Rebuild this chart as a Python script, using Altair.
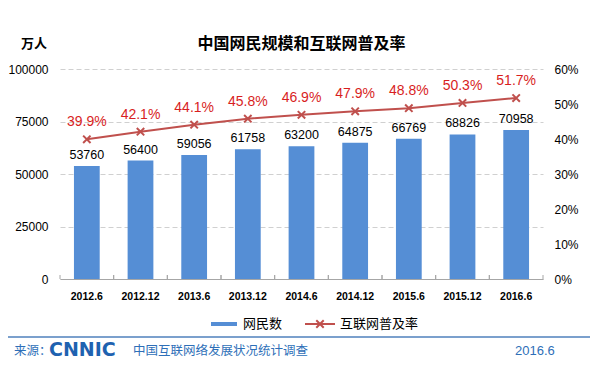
import altair as alt
import pandas as pd

periods = ["2012.6", "2012.12", "2013.6", "2013.12", "2014.6", "2014.12", "2015.6", "2015.12", "2016.6"]
users = [53760, 56400, 59056, 61758, 63200, 64875, 66769, 68826, 70958]
rates = [39.9, 42.1, 44.1, 45.8, 46.9, 47.9, 48.8, 50.3, 51.7]
left_ticks = [0, 25000, 50000, 75000, 100000]
right_ticks = [0, 10, 20, 30, 40, 50, 60]

df = pd.DataFrame({"period": periods, "users": users, "rate": rates})
df["rate_label"] = [f"{r:.1f}%" for r in rates]

FONT = "Liberation Sans, Noto Sans CJK SC"
CJK = "Noto Sans CJK SC"
BAR = "#558ED5"
LINE = "#C0504D"
PCT = "#D81E1E"
BLUE_TXT = "#2E6FB8"
W, H = 483, 210
STEP = W / len(periods)
XSHAPE = "M-1,-1L1,1M-1,1L1,-1"

xaxis = alt.Axis(labelAngle=0, ticks=False, domain=True, domainColor="#A6A6A6", domainWidth=1,
                 labelFont=FONT, labelFontSize=10.5, labelFontWeight="bold",
                 labelColor="#000000", labelPadding=12, grid=False)
xscale = alt.Scale(paddingInner=0.52, paddingOuter=0.26)
xenc = alt.X("period:N", sort=periods, title=None, scale=xscale, axis=xaxis)

lax = alt.Axis(values=left_ticks, format="d", domain=False, ticks=False, labelOverlap=False,
               labelFont=FONT, labelFontSize=12, labelColor="#000000", labelPadding=12,
               grid=True, gridDash=[5, 3], gridColor="#D0D0D0")
yleft = alt.Y("users:Q", title=None, scale=alt.Scale(domain=[0, 100000]), axis=lax)

rax = alt.Axis(orient="right", values=right_ticks, labelExpr="datum.value + '%'",
               domain=False, ticks=False, grid=False, labelOverlap=False,
               labelFont=FONT, labelFontSize=12, labelColor="#000000",
               labelAlign="left", labelPadding=11)
yright = alt.Y("rate:Q", title=None, scale=alt.Scale(domain=[0, 60]), axis=rax)

base = alt.Chart(df)

bars = base.mark_bar(color=BAR).encode(x=xenc, y=yleft)
bar_text = base.mark_text(font=FONT, fontSize=12.5, color="#000000", baseline="bottom", dy=-4).encode(
    x=xenc, y=yleft, text=alt.Text("users:Q", format="d"))
tick_l = base.mark_rule(color="#A6A6A6", xOffset=-STEP / 2).encode(
    x=xenc, y=alt.value(H - 4), y2=alt.value(H))
tick_r = base.mark_rule(color="#A6A6A6", xOffset=STEP / 2).encode(
    x=xenc, y=alt.value(H - 4), y2=alt.value(H))

left = alt.layer(bars, bar_text, tick_l, tick_r)

line = base.mark_line(color=LINE, strokeWidth=2).encode(x=xenc, y=yright)
pts = base.mark_point(shape=XSHAPE, size=55, filled=False, stroke=LINE, strokeWidth=2, opacity=1).encode(
    x=xenc, y=yright)
pct_text = base.mark_text(font=FONT, fontSize=14, color=PCT, baseline="bottom", dy=-10).encode(
    x=xenc, y=yright, text="rate_label:N")

right = alt.layer(line, pts, pct_text)

one = pd.DataFrame({"k": [0]})


def label(txt, x, y, size, color="#000000", weight="normal", align="left", font=CJK):
    return alt.Chart(pd.DataFrame({"t": [txt]})).mark_text(
        font=font, fontSize=size, color=color, fontWeight=weight, align=align, baseline="middle"
    ).encode(x=alt.value(x), y=alt.value(y), text="t:N")


title = label("中国网民规模和互联网普及率", W / 2, -25, 16, weight="bold", align="center")
unit = label("万人", -26, -25, 13, weight="bold", align="center")

leg_bar = alt.Chart(one).mark_rule(color=BAR, strokeWidth=4).encode(
    x=alt.value(151), x2=alt.value(177), y=alt.value(255))
leg_bar_t = label("网民数", 183, 255, 13)
leg_line = alt.Chart(one).mark_rule(color=LINE, strokeWidth=2).encode(
    x=alt.value(245), x2=alt.value(275), y=alt.value(255))
leg_pt = alt.Chart(one).mark_point(shape=XSHAPE, size=55, filled=False, stroke=LINE, strokeWidth=2, opacity=1).encode(
    x=alt.value(260), y=alt.value(255))
leg_line_t = label("互联网普及率", 280, 255, 13)

sep = alt.Chart(one).mark_rule(color="#4F81BD", strokeWidth=1.5).encode(
    x=alt.value(-55), x2=alt.value(530), y=alt.value(268))
src = label("来源：", -46, 282, 12.5, color=BLUE_TXT)
logo = label("CNNIC", -11, 281, 19, color="#1F62B0", weight="bold", font="DejaVu Sans")
src2 = label("中国互联网络发展状况统计调查", 73, 282, 12.5, color=BLUE_TXT)
date = label("2016.6", 455, 282, 13, color=BLUE_TXT, font=FONT)

chart = alt.layer(
    left, right, title, unit, leg_bar, leg_bar_t, leg_line, leg_pt, leg_line_t, sep, src, logo, src2, date
).resolve_scale(y="independent").properties(
    width=W, height=H,
    background="white",
    autosize=alt.AutoSizeParams(type="none"),
    padding={"left": 52, "top": 61, "right": 51, "bottom": 80},
).configure_view(stroke=None)

chart.save("out.html", embed_options={"renderer": "svg", "actions": False})
